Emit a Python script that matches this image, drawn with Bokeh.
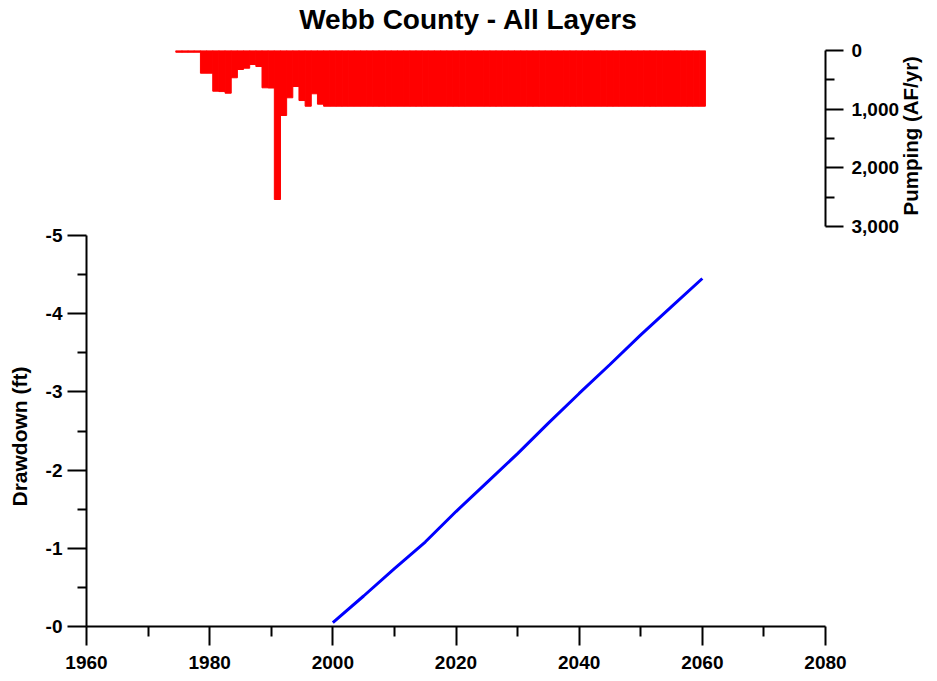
import math
from bokeh.plotting import figure
from bokeh.models import (Range1d, LinearAxis, FixedTicker, CustomJSTickFormatter,
                          NumeralTickFormatter)
from bokeh.embed import file_html
from bokeh.resources import INLINE

# ---------------- data ----------------
pump_years = list(range(1975, 2061))
pumping = [
    30, 30, 30, 30,                                   # 1975-1978
    387, 387,                                         # 1979-1980
    694, 700, 728,                                    # 1981-1983
    465, 324, 302, 239, 273,                          # 1984-1988
    636, 640, 2540, 1108, 806, 614, 853, 950, 738, 915,  # 1989-1998
    950,                                              # 1999
    950, 950, 950, 950, 950, 950, 950, 950, 950, 950,  # 2000-2009
    950, 950, 950, 950, 950, 950, 950, 950, 950, 950,  # 2010-2019
    950, 950, 950, 950, 950, 950, 950, 950, 950, 950,  # 2020-2029
    950, 950, 950, 950, 950, 950, 950, 950, 950, 950,  # 2030-2039
    950, 950, 950, 950, 950, 950, 950, 950, 950, 950,  # 2040-2049
    950, 950, 950, 950, 950, 950, 950, 950, 950, 950,  # 2050-2059
    950,                                              # 2060
]

dd_years = [2000, 2005, 2010, 2015, 2020, 2025, 2030, 2035, 2040, 2045, 2050, 2055, 2060]
drawdown = [-0.05, -0.39, -0.74, -1.08, -1.47, -1.84, -2.21, -2.60, -2.98, -3.35, -3.73, -4.09, -4.45]

x_major = [1960, 1980, 2000, 2020, 2040, 2060, 2080]
x_minor = [1970, 1990, 2010, 2030, 2050, 2070]
dd_major = [-5, -4, -3, -2, -1, 0]
dd_minor = [-4.5, -3.5, -2.5, -1.5, -0.5]
pump_major = [0, 1000, 2000, 3000]
pump_minor = [500, 1500, 2500]

title_text = "Webb County - All Layers"
dd_label = "Drawdown (ft)"
pump_label = "Pumping (AF/yr)"
FONT = "Liberation Sans"

# ---------------- layout ----------------
W, H = 937, 672
F_LEFT, F_TOP, F_RIGHT, F_BOTTOM = 86, 50, 825, 626
frame_h = F_BOTTOM - F_TOP
x_px = (F_RIGHT - F_LEFT) / 120.0      # pixels per year
dd_px = 391.0 / 5                      # pixels per foot of drawdown
pump_px = 176.0 / 3000                 # pixels per AF/yr
dd_top = -frame_h / dd_px              # drawdown value at the top of the frame
pump_bottom = frame_h / pump_px        # pumping value at the bottom of the frame

# where the title texts sit (as positions on their own scales)
title_at = 1960 + (468 - F_LEFT) / x_px
dd_label_at = -(F_BOTTOM - 436) / dd_px
pump_label_at = (215 - F_TOP) / pump_px

p = figure(width=W, height=H,
           x_range=Range1d(1960, 2080), y_range=Range1d(0, dd_top),
           x_axis_type=None, y_axis_type=None,
           output_backend="svg", toolbar_location=None,
           min_border_left=F_LEFT, min_border_right=W - F_RIGHT,
           min_border_top=F_TOP, min_border_bottom=H - F_BOTTOM)
p.outline_line_color = None
p.background_fill_color = "white"
p.extra_y_ranges = {"pump": Range1d(pump_bottom, 0)}


def style(ax, tick_out, minor_out, standoff, size="19px"):
    ax.axis_line_color = "black"
    ax.axis_line_width = 2
    ax.major_tick_line_color = "black"
    ax.major_tick_line_width = 2
    ax.minor_tick_line_color = "black"
    ax.minor_tick_line_width = 2
    ax.major_tick_in = 0
    ax.minor_tick_in = 0
    ax.major_tick_out = tick_out
    ax.minor_tick_out = minor_out
    ax.major_label_text_font = FONT
    ax.major_label_text_font_style = "bold"
    ax.major_label_text_font_size = size
    ax.major_label_text_color = "black"
    ax.major_label_standoff = standoff


def text_axis(ax):
    ax.axis_line_color = None
    ax.major_tick_line_color = None
    ax.minor_tick_line_color = None


# title (drawn as a single labelled position above the frame)
ttl = LinearAxis(ticker=FixedTicker(ticks=[title_at], minor_ticks=[]),
                 formatter=CustomJSTickFormatter(args=dict(t=title_text), code="return t;"))
style(ttl, 0, 0, 16, "28px")
text_axis(ttl)
p.add_layout(ttl, "above")

xaxis = LinearAxis(ticker=FixedTicker(ticks=x_major, minor_ticks=x_minor))
style(xaxis, 19, 10, 10)
p.add_layout(xaxis, "below")

yaxis = LinearAxis(ticker=FixedTicker(ticks=dd_major, minor_ticks=dd_minor),
                   bounds=(-5, 0),
                   formatter=CustomJSTickFormatter(code="return '-' + Math.abs(tick).toFixed(0);"))
style(yaxis, 19, 9, 5)
p.add_layout(yaxis, "left")

ytitle = LinearAxis(ticker=FixedTicker(ticks=[dd_label_at], minor_ticks=[]),
                    formatter=CustomJSTickFormatter(args=dict(t=dd_label), code="return t;"),
                    major_label_orientation="parallel")
style(ytitle, 0, 0, 12, "21px")
text_axis(ytitle)
p.add_layout(ytitle, "left")

raxis = LinearAxis(y_range_name="pump",
                   ticker=FixedTicker(ticks=pump_major, minor_ticks=pump_minor),
                   bounds=(0, 3000),
                   formatter=NumeralTickFormatter(format="0,0"))
style(raxis, 18, 9, 8)
p.add_layout(raxis, "right")

rtitle = LinearAxis(y_range_name="pump",
                    ticker=FixedTicker(ticks=[pump_label_at], minor_ticks=[]),
                    formatter=CustomJSTickFormatter(args=dict(t=pump_label), code="return t;"),
                    major_label_orientation=math.pi / 2)
style(rtitle, 0, 0, 8, "20.5px")
text_axis(rtitle)
p.add_layout(rtitle, "right")

p.vbar(x=pump_years, width=1.0, top=pumping, bottom=0, y_range_name="pump",
       fill_color="#FF0000", line_color="#FF0000", line_width=1)
p.line(dd_years, drawdown, line_color="#0000FF", line_width=3)

open("out.html", "w").write(file_html(p, INLINE))
